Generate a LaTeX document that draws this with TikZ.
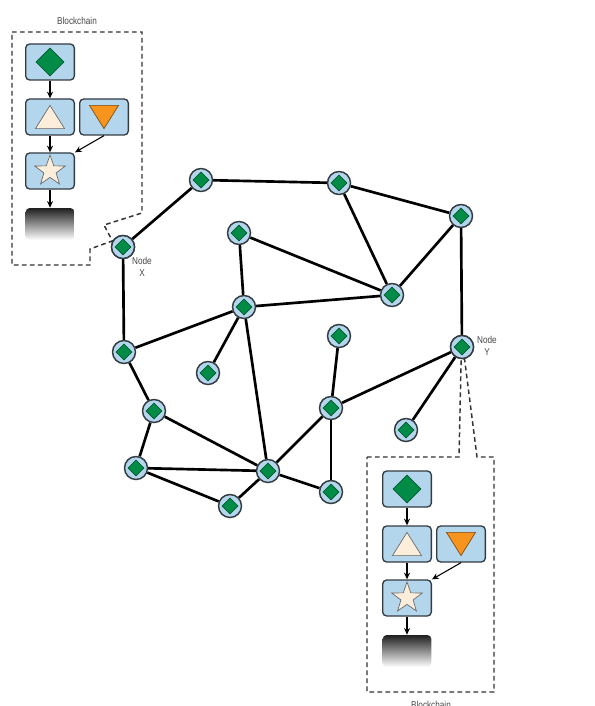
\documentclass[tikz,border=0pt]{standalone}
\usepackage{fontspec}
\newfontfamily\lbl[FakeStretch=0.82]{Liberation Sans}
\usetikzlibrary{shapes.geometric,arrows.meta}
\definecolor{lblue}{RGB}{180,214,236}
\definecolor{edgegray}{RGB}{50,60,66}
\definecolor{dgreen}{RGB}{0,140,70}
\definecolor{orng}{RGB}{247,148,30}
\definecolor{cream}{RGB}{253,238,220}
\definecolor{txtgray}{RGB}{70,70,70}
\tikzset{
  peer/.style={circle, draw=edgegray, line width=1.1pt, fill=lblue, minimum size=17.25pt, inner sep=0pt,
    path picture={\fill[sharp corners, dgreen, draw=dgreen!55!black, line width=0.4pt] (path picture bounding box.center) ++(0pt,6pt) -- ++(6pt,-6pt) -- ++(-6pt,-6pt) -- ++(-6pt,6pt) -- cycle;}},
  link/.style={line width=2pt, black},
  block/.style={rectangle, rounded corners=3pt, draw=edgegray, line width=1pt, fill=lblue, minimum width=36.5pt, minimum height=27pt, inner sep=0pt},
  blockD/.style={block, path picture={\fill[sharp corners, dgreen, draw=dgreen!55!black, line width=0.4pt] (path picture bounding box.center) ++(0pt,10.5pt) -- ++(10.5pt,-10.5pt) -- ++(-10.5pt,-10.5pt) -- ++(-10.5pt,10.5pt) -- cycle;}},
  blockU/.style={block, path picture={\fill[sharp corners, cream, draw=gray!80!black, line width=0.5pt] (path picture bounding box.center) ++(-10.9pt,-8.7pt) -- ++(21.8pt,0pt) -- ++(-10.9pt,17.4pt) -- cycle;}},
  blockV/.style={block, path picture={\fill[sharp corners, orng, draw=orng!50!black, line width=0.5pt] (path picture bounding box.center) ++(-10.9pt,8.7pt) -- ++(21.8pt,0pt) -- ++(-10.9pt,-17.4pt) -- cycle;}},
  starshape/.style={star, star points=5, star point ratio=2.5, minimum size=24pt, inner sep=0pt, fill=cream, draw=gray!80!black, line width=0.5pt},
  grad/.style={rectangle, rounded corners=3pt, minimum width=36.5pt, minimum height=24pt, inner sep=0pt, top color=black!88, middle color=black!22, bottom color=white},
  arr/.style={line width=0.8pt, black, -{Stealth[length=5pt,width=4.5pt]}},
  dashbox/.style={draw=black!80, line width=1.1pt, dash pattern=on 3.5pt off 2.5pt},
  lab/.style={font=\lbl\fontsize{7.5}{9.5}\selectfont, text=txtgray, inner sep=0pt, align=center},
  chain/.pic={
    \node[blockD] (-b1) at (0,0) {};
    \node[blockU] (-b2) at (0,55) {};
    \node[blockV] (-o1) at (54,55) {};
    \node[block] (-s1) at (0,109) {};
    \node[starshape] (-st) at (-s1.center) {};
    \node[grad] (-g1) at (0,162) {};
    \draw[arr] (-b1) -- (-b2);
    \draw[arr] (-b2) -- (-s1);
    \draw[arr] (-o1.south) -- (-s1.north east);
    \draw[arr] (-s1) -- (-g1);
  }
}
\begin{document}
\begin{tikzpicture}[x=0.75pt,y=-0.75pt]
\useasboundingbox (0,0) rectangle (595,706);
% network nodes
\node[peer] (p1) at (201,180) {};
\node[peer] (p2) at (339,183) {};
\node[peer] (p3) at (461,216) {};
\node[peer] (X) at (123,247) {};
\node[peer] (p5) at (239,233) {};
\node[peer] (p6) at (392,295) {};
\node[peer] (p7) at (244,307) {};
\node[peer] (p8) at (124,352) {};
\node[peer] (p9) at (208,373) {};
\node[peer] (p10) at (339,336) {};
\node[peer] (Y) at (462,347) {};
\node[peer] (p12) at (154,411) {};
\node[peer] (p13) at (331,408) {};
\node[peer] (p14) at (406,430) {};
\node[peer] (p15) at (136,468) {};
\node[peer] (p16) at (268,471) {};
\node[peer] (p17) at (331,492) {};
\node[peer] (p18) at (230,506) {};
% dashed callout boxes
\draw[dashbox] (12,32) -- (142,32) -- (142,213) -- (104,225) -- (X.150) -- (90,249) -- (90,265) -- (12,265) -- cycle;
\draw[dashbox] (367,457) -- (459,457) -- (Y.266) -- (Y.282) -- (477,457) -- (494,457) -- (494,692) -- (367,692) -- cycle;
% links
\foreach \a/\b in {p1/p2, p1/X, p2/p3, p2/p6, p3/p6, p3/Y, X/p8, p5/p6, p5/p7, p7/p6, p7/p8, p7/p9, p7/p16, p8/p12, p12/p15, p12/p16, p15/p16, p15/p18, p18/p16, p16/p17, p16/p13, p13/p10, p13/p17, p13/Y, Y/p14}
  \draw[link] (\a) -- (\b);
% redraw nodes X and Y on top of the dashed lines
\foreach \n in {X,Y} \node[peer] (\n-top) at (\n.center) {};
% labels
\node[lab] (lx) at (142,267) {Node\\X};
\node[lab] (ly) at (487,346) {Node\\Y};
\node[lab] (tl) at (77,21) {Blockchain};
\node[lab] (tr) at (431,705) {Blockchain};
% blockchains
\pic (L) at (50,62) {chain};
\pic (R) at (407,489) {chain};
\end{tikzpicture}
\end{document}
